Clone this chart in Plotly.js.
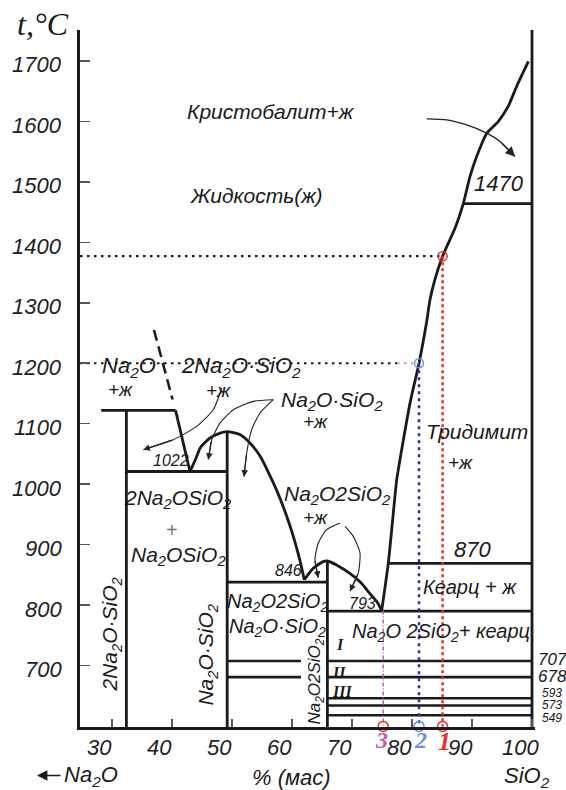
<!DOCTYPE html>
<html><head><meta charset="utf-8">
<script src="https://cdn.plot.ly/plotly-3.0.1.min.js"></script>
<style>html,body{margin:0;padding:0;background:#fff}</style>
</head><body><div id="chart" style="width:566px;height:790px"></div>
<script>
// ---- axis ticks ----
const xTicks = [30,40,50,60,70,80,90,100];
const yTicks = [700,800,900,1000,1100,1200,1300,1400,1500,1600,1700];
// ---- compound compositions, % SiO2 ----
const compX = {c2NS: 32.4, cNS: 49.2, cNS2: 65.9, cS: 100};
// ---- invariant / transformation temperatures (as drawn) ----
const tNa = 1122, tE1 = 1021, tE2 = 838, tE3 = 790, tQ = 869, tTr = 1464;
const lowLevels = [707.6, 681, 646, 634, 618];
const lowLabels = ['707','678','593','573','549'];
// ---- liquidus curves ----
const liqNaX = [40.6, 43.0], liqNaY = [1122, 1021];
const liqNaDashX = [37.0, 40.1], liqNaDashY = [1255, 1140];
const domeAX = [43.0,44.0,44.7,46.3,48.0,49.2,51.3,53.0,54.7,57.4,59.7,61.3,62.05];
const domeAY = [1021,1043,1060,1076,1084.5,1087,1082,1068,1046,991,930,875,842];
const domeBX = [62.05,63.55,65.2,65.9,67.5,69.7,71.5,73.0,74.2,74.95];
const domeBY = [842,861,872,873,866,852,837,819,805,791];
const liqSX = [74.95,76.05,76.75,77.45,79.67,81.17,82.4,83.0,83.8,85.1,87.2,88.55,89.67,90.78,92.45,94.4,96.05,97.45,99.4];
const liqSY = [791,869,938,1007,1134,1200,1266,1305,1338,1377,1424,1464,1509,1542,1580,1600,1625,1658,1699];
// ---- glass compositions 1,2,3 ----
const ptX = [85.1, 81.17, 75.2];
const ptY = [1377, 1200, 791];
const ptColors = ['#e8302a', '#7090d8', '#c060a8'];
const ptLineColors = ['#e8302a', '#3a2aa0', '#c060a8'];
const ptNames = ['1','2','3'];
const yBase = 599.5;
// ---- pointer arrows (data units) ----
const arrows = [
  {x:[48.28,46.88,44.12,40.22,35.22], y:[1159,1123,1095.5,1073.6,1057]},
  {x:[56.88,53.55,50.22,48.0,46.62,46.05], y:[1139.7,1136.9,1123,1101,1073.6,1040.5]},
  {x:[56.88,54.67,53.28,52.45,52.0], y:[1139.7,1117.7,1090.1,1051.6,1012.4]},
  {x:[82.45,85.78,89.12,92.45,94.67,97.17], y:[1604,1602.5,1594,1580.5,1566.6,1541.8]},
  {x:[68.0,65.78,64.38,63.83,64.38], y:[935.9,924.8,902.8,875.2,845]},
  {x:[68.83,70.22,71.33,71.05,69.67], y:[930.2,913.7,886.3,853.2,822.8]}
];

const XR = [24.67, 100.5], YR = [598.5, 1751];
const SANS = 'Liberation Sans, Arial, sans-serif';
const SERIF = 'Liberation Serif, Times New Roman, serif';
const traces = [];
const K = '#1a1a1a';
function seg(x, y, opt) {
  opt = opt || {};
  traces.push({x:x, y:y, mode:'lines', type:'scatter', hoverinfo:'skip', showlegend:false,
    cliponaxis:false,
    line:{color:opt.color||K, width:opt.width||2.8, dash:opt.dash||'solid', shape:opt.shape||'linear', smoothing:opt.sm||0.6}});
}
// phase boundaries
seg(liqNaX, liqNaY);
seg(liqNaDashX, liqNaDashY, {dash:'11px,6px', width:2.5});
seg([28.2, liqNaX[0]], [tNa, tNa]);
seg([compX.c2NS, compX.c2NS], [tNa, YR[0]]);
seg([compX.c2NS, compX.cNS], [tE1, tE1]);
seg(domeAX, domeAY, {shape:'spline'});
seg([compX.cNS, compX.cNS], [1087, YR[0]]);
seg([compX.cNS, compX.cNS2], [tE2, tE2]);
seg(domeBX, domeBY, {shape:'spline'});
seg([compX.cNS2, compX.cNS2], [873, YR[0]]);
seg([compX.cNS2, compX.cS], [tE3, tE3]);
seg(liqSX, liqSY, {shape:'spline', sm:0.5});
seg([liqSX[11], compX.cS], [tTr, tTr]);
seg([liqSX[1], compX.cS], [tQ, tQ]);
seg([compX.cS, compX.cS], [YR[0], YR[1]]);
lowLevels.forEach((v,i) => {
  seg([compX.cNS2, compX.cS], [v, v], {width: 2.6});
  if (i < 2) seg([compX.cNS, 61.5], [v, v], {width: 2.6});
});
// dotted guides
seg([XR[0], ptX[0]], [ptY[0], ptY[0]], {dash:'2.5px,4.5px', width:2.2});
seg([XR[0], 77.5], [ptY[1], ptY[1]], {dash:'2.5px,4.5px', width:2.2});
seg([77.5, ptX[1]], [ptY[1], ptY[1]], {dash:'2.5px,4.5px', width:2.2, color:'#aaa'});
seg([ptX[0], ptX[0]], [ptY[0], yBase], {dash:'3px,3px', width:2.5, color:ptLineColors[0]});
seg([ptX[1], ptX[1]], [ptY[1], yBase], {dash:'3px,4px', width:2.5, color:ptLineColors[1]});
seg([ptX[2], ptX[2]], [ptY[2], yBase], {dash:'4px,2px,1px,2px', width:1.5, color:ptLineColors[2]});
// circles
traces.push({x:[ptX[0], ptX[1]], y:[ptY[0], ptY[1]], mode:'markers', type:'scatter', showlegend:false, hoverinfo:'skip', cliponaxis:false,
  marker:{symbol:'circle-open', size:9, color:[ptColors[0], ptColors[1]], line:{width:1.5}}});
traces.push({x:ptX, y:[yBase,yBase,yBase], mode:'markers', type:'scatter', showlegend:false, hoverinfo:'skip', cliponaxis:false,
  marker:{symbol:'circle-open', size:10, color:[ptColors[0], ptColors[1], '#e8302a'], line:{width:1.5}}});
// pointer curves
arrows.forEach((a,i) => seg(a.x, a.y, {width: i===3?1.3:1.1, shape:'spline', color:'#222'}));

// ---- annotations ----
const W = 566, H = 790, ML = 80, MR = 31, MT = 30, MB = 62.5;
const PW = W - ML - MR, PH = H - MT - MB;
const ann = [];
const px2x = px => (px-ML)/PW, py2y = py => (H-MB-py)/PH;
function txt(t, px, py, size, o) {
  o = o || {};
  ann.push({text:t, xref:'paper', yref:'paper', x:px2x(px), y:py2y(py), showarrow:false,
    xanchor:o.xa||'center', yanchor:o.ya||'middle', textangle:o.ang||0, borderpad:0,
    font:{family:o.fam||SANS, size:size, color:o.color||'#1a1a1a', style:o.style||'italic', weight:o.weight||'normal'}});
}
// tick labels (italic, offset as in the original print)
const xScale = PW/(XR[1]-XR[0]), yScale = PH/(YR[1]-YR[0]);
xTicks.forEach(v => ann.push({text:String(v), xref:'x', yref:'paper', x:v-12/xScale, y:py2y(748),
  showarrow:false, xanchor:'center', yanchor:'middle', borderpad:0,
  font:{family:SANS, size:22, color:'#222', style:'italic'}}));
yTicks.forEach(v => ann.push({text:String(v), xref:'paper', yref:'y', x:px2x(63), y:v-4/yScale,
  showarrow:false, xanchor:'right', yanchor:'middle', borderpad:0,
  font:{family:SANS, size:22, color:'#222', style:'italic'}}));
const s2 = '<sub>2</sub>';
txt('Кристобалит+ж', 271, 112, 21);
txt('Жидкость(ж)', 256, 196, 21);
txt('1470', 499, 184, 22);
txt('Na'+s2+'O', 129, 367, 22);
txt('+ж', 120, 390, 19);
txt('2Na'+s2+'O·SiO'+s2, 241, 367, 22);
txt('+ж', 218, 391, 19);
txt('Na'+s2+'O·SiO'+s2, 332, 401, 21);
txt('+ж', 315, 422, 19);
txt('Тридимит', 477, 432, 21);
txt('+ж', 460, 463, 19);
txt('Na'+s2+'O2SiO'+s2, 337, 495, 21);
txt('+ж', 315, 518, 19);
txt('870', 472, 550, 22);
txt('Кеарц + ж', 470, 587, 20);
txt('Na'+s2+'O 2SiO'+s2+'+ кеарц', 441, 633, 20);
txt('846', 288, 571, 16);
txt('793', 362, 604, 16);
txt('1022', 171, 461, 16);
txt('2Na'+s2+'OSiO'+s2, 177, 499, 21);
txt('+', 172, 530, 20, {style:'normal', color:'#777'});
txt('Na'+s2+'OSiO'+s2, 178, 556, 21);
txt('2Na'+s2+'O·SiO'+s2, 111, 635, 21, {ang:-90});
txt('Na'+s2+'O·SiO'+s2, 207, 655, 21, {ang:-90});
txt('Na'+s2+'O2SiO'+s2, 277, 603, 20);
txt('Na'+s2+'O·SiO'+s2, 277, 628, 20);
txt('Na'+s2+'O2SiO'+s2, 316, 682, 17, {ang:-90});
txt('I', 340, 645, 16, {fam:SERIF, weight:'bold'});
txt('II', 339, 673, 16, {fam:SERIF, weight:'bold'});
txt('III', 342, 692, 16, {fam:SERIF, weight:'bold'});
const lowPy = [660, 677, 693, 705, 718];
lowLabels.forEach((l,i) => txt(l, 552, lowPy[i], i<2?17:12));
txt('3', 381, 741, 24, {fam:SERIF, weight:'bold', color:ptColors[2]});
txt('2', 420, 741, 24, {fam:SERIF, weight:'bold', color:ptColors[1]});
txt('1', 444, 742, 26, {fam:SERIF, weight:'bold', color:ptColors[0]});
txt('t,°C', 43, 24, 32, {fam:SERIF});
txt('Na'+s2+'O', 91, 777, 22);
txt('% (мас)', 291, 778, 22);
txt('SiO'+s2, 527, 778, 22);
// arrow "← Na2O"
ann.push({xref:'paper', yref:'paper', x:px2x(37), y:py2y(776), axref:'pixel', ayref:'pixel', ax:25, ay:0,
  text:'', showarrow:true, arrowhead:2, arrowsize:1.3, arrowwidth:1.6, arrowcolor:'#1a1a1a', standoff:0});
// arrowheads at the ends of pointer curves
arrows.forEach((a,i) => {
  const n = a.x.length;
  ann.push({x:a.x[n-1], y:a.y[n-1], ax:a.x[n-2], ay:a.y[n-2], xref:'x', yref:'y', axref:'x', ayref:'y',
    text:'', showarrow:true, arrowhead:2, arrowsize:i===3?1.6:1.1, arrowwidth:1.2, arrowcolor:'#222', standoff:0});
});

const layout = {
  width:W, height:H, margin:{l:ML, r:MR, t:MT, b:MB}, paper_bgcolor:'#fff', plot_bgcolor:'#fff',
  showlegend:false,
  xaxis:{range:XR, tickvals:xTicks, showticklabels:false, showgrid:false, zeroline:false,
    showline:true, linecolor:K, linewidth:3, ticks:'inside', ticklen:8, tickwidth:1.5, tickcolor:'#555'},
  yaxis:{range:YR, tickvals:yTicks, showticklabels:false, showgrid:false, zeroline:false,
    showline:true, linecolor:K, linewidth:3, ticks:'inside', ticklen:10, tickwidth:1.5, tickcolor:'#555'},
  annotations:ann
};
Plotly.newPlot('chart', traces, layout, {staticPlot:true, displayModeBar:false});
</script></body></html>
